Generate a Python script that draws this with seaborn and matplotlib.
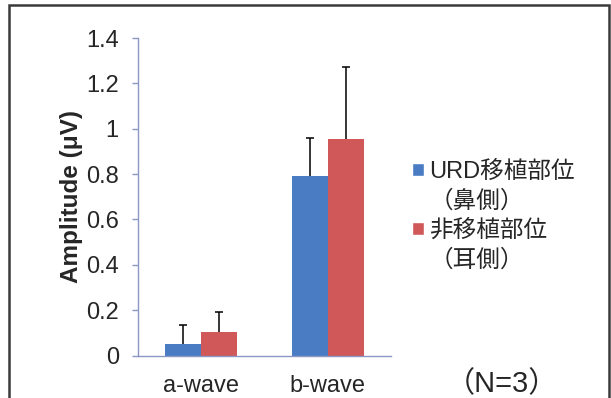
import matplotlib
matplotlib.use("Agg")
import matplotlib.pyplot as plt
from matplotlib.patches import Patch, Rectangle
import seaborn as sns
import pandas as pd
import numpy as np

# ---- data ----
categories = ["a-wave", "b-wave"]
series_names = ["URD移植部位", "非移植部位"]
series_sub = ["（鼻側）", "（耳側）"]
urd_values = [0.052, 0.79]
urd_err = [0.081, 0.168]
non_values = [0.105, 0.955]
non_err = [0.088, 0.318]
y_ticks = [0, 0.2, 0.4, 0.6, 0.8, 1, 1.2, 1.4]
y_tick_labels = ["0", "0.2", "0.4", "0.6", "0.8", "1", "1.2", "1.4"]
y_label = "Amplitude (μV)"
n_label = "（N=3）"

colors = ["#4A7CC4", "#D05858"]
axis_color = "#8C98C4"

df = pd.DataFrame({
    "wave": categories * 2,
    "group": [series_names[0]] * 2 + [series_names[1]] * 2,
    "amp": urd_values + non_values,
})
errs = [urd_err, non_err]

sns.set_style("white")
plt.rcParams["font.family"] = ["Liberation Sans", "Noto Sans CJK JP", "DejaVu Sans"]

fig = plt.figure(figsize=(6.11, 3.98), dpi=100)
ax = fig.add_axes([138.3 / 611, 1 - 355.5 / 398, (390.7 - 138.3) / 611, (355.5 - 38) / 398])

sns.barplot(data=df, x="wave", y="amp", hue="group", order=categories,
            hue_order=series_names, palette=colors, width=0.57, gap=0,
            errorbar=None, saturation=1, ax=ax, legend=False, linewidth=0)

for cont, err in zip(ax.containers, errs):
    xs = [b.get_x() + b.get_width() / 2 for b in cont]
    hs = [b.get_height() for b in cont]
    _, caps, _ = ax.errorbar(xs, hs, yerr=[np.zeros(len(err)), err], fmt="none",
                             ecolor="black", elinewidth=1.1, capsize=3.0, capthick=1.1)
    for c in caps:
        if np.allclose(np.asarray(c.get_ydata(), dtype=float), hs):
            c.set_visible(False)

ax.set_xlim(-0.5, 1.5)
ax.set_ylim(0, 1.4)
ax.set_yticks(y_ticks)
ax.set_yticklabels(y_tick_labels)
ax.set_xticks([0, 1])
ax.set_xticklabels(categories)
ax.set_xticks([-0.5, 0.5, 1.5], minor=True)
ax.tick_params(axis="x", which="major", length=0, pad=14, labelsize=17)
ax.tick_params(axis="x", which="minor", length=5, width=1, color=axis_color, direction="out")
ax.tick_params(axis="y", which="major", length=4, width=1, color=axis_color, direction="out",
               pad=10, labelsize=17, left=True)
ax.set_xlabel("")
ax.set_ylabel(y_label, fontsize=17.5, fontweight="bold")
ax.yaxis.set_label_coords(-0.22, 0.5)

for s in ["top", "right"]:
    ax.spines[s].set_visible(False)
for s in ["left", "bottom"]:
    ax.spines[s].set_color(axis_color)
    ax.spines[s].set_linewidth(1.0)

handles = [Patch(facecolor=colors[0]), Patch(facecolor="none", edgecolor="none"),
           Patch(facecolor=colors[1]), Patch(facecolor="none", edgecolor="none")]
labels = [series_names[0], series_sub[0], series_names[1], series_sub[1]]
fig.legend(handles, labels, loc="center left",
           bbox_to_anchor=(411.7 / 611, 1 - 216 / 398), bbox_transform=fig.transFigure,
           frameon=False, fontsize=17, handlelength=0.5, handleheight=0.5,
           handletextpad=0.25, labelspacing=0.3, borderpad=0, borderaxespad=0)

fig.text(502 / 611, 1 - 384 / 398, n_label, fontsize=21, ha="center", va="center")

fig.patches.append(Rectangle((8.5 / 611, -0.1), (608.5 - 8.5) / 611, 1.1 - 4.5 / 398,
                             transform=fig.transFigure, fill=False,
                             edgecolor="#3a3a3a", linewidth=1.8))

fig.savefig("out.png", dpi=100, facecolor="white")
